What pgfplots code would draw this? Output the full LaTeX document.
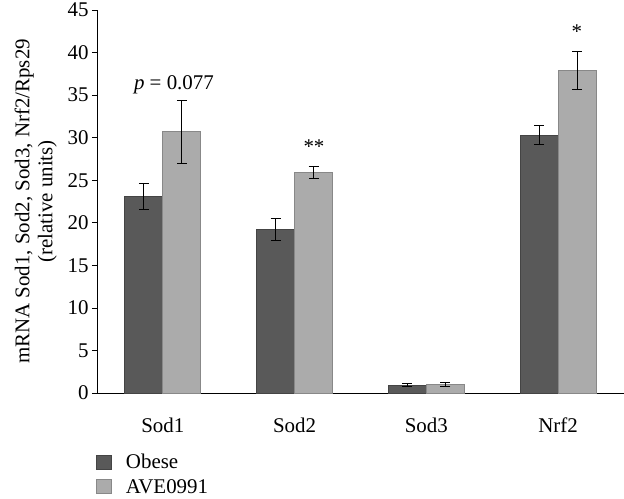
\documentclass[border=0pt]{standalone}
\usepackage{pgfplots}
\pgfplotsset{compat=1.18}
\usepackage{fontspec}
\setmainfont{Liberation Serif}
\definecolor{dkA}{HTML}{444444}
\definecolor{dkB}{HTML}{595959}
\definecolor{ltA}{HTML}{888888}
\definecolor{ltB}{HTML}{ABABAB}
\newcommand{\fs}{\fontsize{21}{23}\selectfont}
\begin{document}
\begin{tikzpicture}[font=\fs]
\begin{axis}[
  scale only axis,
  width=527bp, height=383bp,
  xmin=-0.5, xmax=3.5,
  ymin=0, ymax=45,
  ytick={0,5,...,45},
  xtick={0,1,2,3},
  xticklabels={Sod1,Sod2,Sod3,Nrf2},
  major x tick style={draw=none},
  extra x ticks={0.5,1.5,2.5},
  extra x tick labels={},
  extra x tick style={major tick length=5bp, tick align=outside, tick style={black, line width=0.7pt}},
  axis x line*=bottom,
  axis y line*=left,
  axis line style={black, line width=0.8pt},
  y tick style={black, line width=0.7pt},
  tick align=outside,
  major tick length=5bp,
  /pgf/number format/assume math mode=true,
  ticklabel style={font=\fs},
  yticklabel style={xshift=0bp},
  xticklabel style={yshift=-16bp},
  ylabel={mRNA Sod1, Sod2, Sod3, Nrf2/Rps29\\(relative units)},
  ylabel style={align=center, font=\fs},
  ylabel shift=4bp,
  ybar, bar width=38bp,
  legend style={at={(-0.002,-0.154)}, anchor=north west, draw=none, fill=none,
    font=\fs, row sep=5bp, inner sep=0pt,
    /tikz/every odd column/.append style={column sep=12bp}},
  legend cell align=left,
  legend image code/.code={\fill[#1] (0bp,-7bp) rectangle (15bp,7bp);},
  clip=false,
]
\addplot[bar shift=-19bp, draw=dkA, line width=0.8pt, fill=dkB,
  error bars/.cd, y dir=both, y explicit,
  error bar style={black, line width=0.9pt}, error mark options={rotate=90, black, mark size=5bp, line width=0.9pt}]
  coordinates {(0,23.1) +- (0,1.5) (1,19.2) +- (0,1.25) (2,0.94) +- (0,0.18) (3,30.3) +- (0,1.1)};
\addlegendentry{Obese}
\addplot[bar shift=19bp, draw=ltA, line width=0.8pt, fill=ltB,
  error bars/.cd, y dir=both, y explicit,
  error bar style={black, line width=0.9pt}, error mark options={rotate=90, black, mark size=5bp, line width=0.9pt}]
  coordinates {(0,30.7) +- (0,3.7) (1,25.9) +- (0,0.75) (2,1.0) +- (0,0.28) (3,37.9) +- (0,2.2)};
\addlegendentry{AVE0991}
\node at (axis cs:0.084,36.2) {\textit{p} = 0.077};
\node at (axis cs:1.147,28.9) {**};
\node at (axis cs:3.143,42.4) {*};
\coordinate (O) at (rel axis cs:0,0);
\coordinate (T) at (rel axis cs:1,1);
\end{axis}
\pgfresetboundingbox
\path ([xshift=-97bp,yshift=-106bp]O) rectangle ([yshift=10bp]T);
\end{tikzpicture}
\end{document}
